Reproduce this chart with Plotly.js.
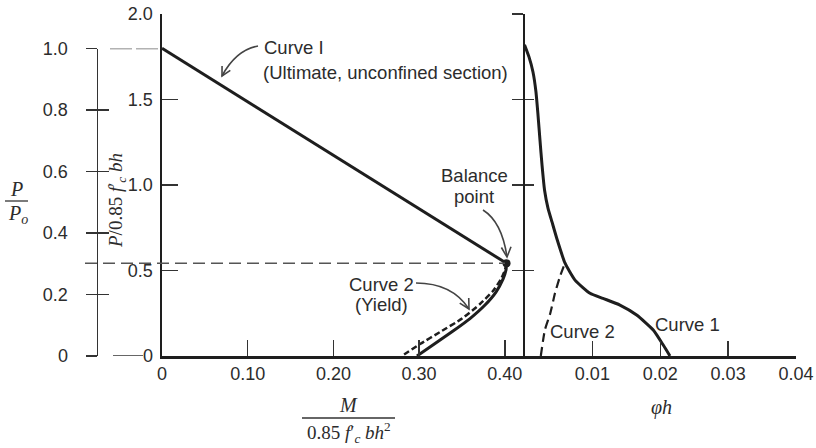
<!DOCTYPE html>
<html>
<head>
<meta charset="utf-8">
<script src="https://cdn.plot.ly/plotly-3.0.1.min.js"></script>
<style>html,body{margin:0;padding:0;background:#fff;}#chart{width:816px;height:448px;}</style>
</head>
<body>
<div id="chart"></div>
<script>
// ---------- data ----------
const mTickVals = [0, 0.1, 0.2, 0.3, 0.4];
const mTickText = ['0', '0.10', '0.20', '0.30', '0.40'];
const pTickVals = [0, 0.5, 1.0, 1.5, 2.0];
const pTickText = ['0', '0.5', '1.0', '1.5', '2.0'];
const poTickVals = [0, 0.2, 0.4, 0.6, 0.8, 1.0];
const poTickText = ['0', '0.2', '0.4', '0.6', '0.8', '1.0'];
const phTickVals = [0.01, 0.02, 0.03, 0.04];
const phTickText = ['0.01', '0.02', '0.03', '0.04'];

// Curve 1 (ultimate) interaction diagram, straight compression branch
const curve1LineM = [0, 0.402];
const curve1LineP = [1.80, 0.542];
// Curve 1 below balance point
const curve1LowM = [0.402, 0.4014, 0.3979, 0.3897, 0.3769, 0.3594, 0.3396, 0.3186, 0.2975];
const curve1LowP = [0.542, 0.503, 0.450, 0.374, 0.298, 0.219, 0.146, 0.073, 0];
// Curve 2 (yield) below balance point
const curve2LowM = [0.402, 0.4002, 0.3956, 0.3862, 0.3711, 0.3501, 0.3244, 0.3011, 0.2797];
const curve2LowP = [0.542, 0.503, 0.450, 0.380, 0.304, 0.219, 0.140, 0.070, 0];
// Balance point
const balanceM = [0.402];
const balanceP = [0.542];
// Curvature curves (phi h vs P)
const curve1PhiH = [0, 0.00066, 0.00125, 0.00169, 0.00199, 0.00228, 0.00258, 0.00295, 0.00346, 0.00405, 0.00483, 0.00596, 0.00744, 0.00965, 0.01156, 0.01406, 0.01652, 0.01897, 0.02044, 0.02143];
const curve1PhiP = [1.82, 1.749, 1.661, 1.544, 1.409, 1.263, 1.117, 0.971, 0.865, 0.784, 0.678, 0.544, 0.444, 0.367, 0.337, 0.298, 0.240, 0.152, 0.064, 0];
const curve2PhiH = [0.0024, 0.0030, 0.0038, 0.0045, 0.0052, 0.00596];
const curve2PhiP = [0, 0.152, 0.25, 0.368, 0.462, 0.544];

// ---------- layout helpers ----------
const W = 816, H = 448;
const X = px => px / W;
const Y = py => 1 - py / H;
const INK = '#1e1e1e';
const TXT = '#2c2c2c';

function curvePath(sx, sy, cx, cy, ex, ey) {
  return `M ${X(sx)},${Y(sy)} Q ${X(cx)},${Y(cy)} ${X(ex)},${Y(ey)}`;
}
function headPath(ex, ey, cx, cy, len, ang) {
  const dx = cx - ex, dy = cy - ey, d = Math.hypot(dx, dy);
  const ux = dx / d, uy = dy / d, a = ang * Math.PI / 180;
  const r1x = ux * Math.cos(a) - uy * Math.sin(a), r1y = ux * Math.sin(a) + uy * Math.cos(a);
  const r2x = ux * Math.cos(-a) - uy * Math.sin(-a), r2y = ux * Math.sin(-a) + uy * Math.cos(-a);
  return `M ${X(ex + r1x * len)},${Y(ey + r1y * len)} L ${X(ex)},${Y(ey)} L ${X(ex + r2x * len)},${Y(ey + r2y * len)}`;
}

const xSplit = 524.5, xLeft = 162, xRight = 796;
const pxPerM = 857; // px per unit of M axis

const traces = [
  {x: curve1LineM, y: curve1LineP, xaxis: 'x', yaxis: 'y', mode: 'lines', line: {color: INK, width: 3}, hoverinfo: 'skip'},
  {x: curve2LowM, y: curve2LowP, xaxis: 'x', yaxis: 'y', mode: 'lines', line: {color: INK, width: 2.5, dash: '6px,3px', shape: 'spline', smoothing: 0.5}, hoverinfo: 'skip'},
  {x: curve1LowM, y: curve1LowP, xaxis: 'x', yaxis: 'y', mode: 'lines', line: {color: INK, width: 3, shape: 'spline', smoothing: 0.5}, hoverinfo: 'skip'},
  {x: balanceM, y: balanceP, xaxis: 'x', yaxis: 'y', mode: 'markers', marker: {color: INK, size: 8}, cliponaxis: false, hoverinfo: 'skip'},
  {x: curve1PhiH, y: curve1PhiP, xaxis: 'x2', yaxis: 'y2', mode: 'lines', line: {color: INK, width: 3, shape: 'spline', smoothing: 0.5}, hoverinfo: 'skip'},
  {x: curve2PhiH, y: curve2PhiP, xaxis: 'x2', yaxis: 'y5', mode: 'lines', line: {color: INK, width: 2.2, dash: '9px,5px', shape: 'spline', smoothing: 0.5}, hoverinfo: 'skip'},
  // helper (invisible) traces so the P/Po axes are drawn
  {x: [0], y: [0], xaxis: 'x', yaxis: 'y3', mode: 'markers', marker: {opacity: 0}, hoverinfo: 'skip'},
  {x: [0], y: [0], xaxis: 'x', yaxis: 'y4', mode: 'markers', marker: {opacity: 0}, hoverinfo: 'skip'}
];

const yDom = [Y(356), Y(14)];
const poDom = [Y(356), Y(48.5)];
const tickFont = {family: 'Liberation Sans, Arial, sans-serif', size: 18, color: TXT};

const layout = {
  width: W, height: H,
  margin: {l: 0, r: 0, t: 0, b: 0},
  paper_bgcolor: '#ffffff',
  plot_bgcolor: 'rgba(0,0,0,0)',
  showlegend: false,
  font: tickFont,
  xaxis: {domain: [X(xLeft), X(xSplit)], range: [0, (xSplit - xLeft) / pxPerM], anchor: 'y',
    showgrid: false, zeroline: false, showline: true, linecolor: INK, linewidth: 2.5,
    ticks: 'inside', ticklen: 16, tickwidth: 1.5, tickcolor: '#333',
    tickmode: 'array', tickvals: mTickVals, ticktext: mTickText, tickfont: tickFont, fixedrange: true},
  xaxis2: {domain: [X(xSplit), X(xRight)], range: [0, 0.04], anchor: 'y2',
    showgrid: false, zeroline: false, showline: true, linecolor: INK, linewidth: 2.5,
    ticks: 'inside', ticklen: 15, tickwidth: 1.5, tickcolor: '#333',
    tickmode: 'array', tickvals: phTickVals, ticktext: phTickText, tickfont: tickFont, fixedrange: true},
  yaxis: {domain: yDom, range: [0, 2.0], anchor: 'x',
    showgrid: false, zeroline: false, showline: true, linecolor: INK, linewidth: 2.5,
    ticks: 'inside', ticklen: 16, tickwidth: 1.5, tickcolor: '#333',
    tickmode: 'array', tickvals: pTickVals, ticktext: pTickText, tickfont: tickFont,
    ticklabelstandoff: 3, fixedrange: true},
  yaxis2: {domain: yDom, range: [0, 2.0], anchor: 'x2',
    showgrid: false, zeroline: false, showline: true, linecolor: INK, linewidth: 2,
    ticks: 'outside', ticklen: 11, tickwidth: 1.5, tickcolor: '#333',
    tickmode: 'array', tickvals: [0.5, 1.0, 1.5, 2.0], showticklabels: false, fixedrange: true},
  yaxis5: {overlaying: 'y2', range: [0, 2.0], anchor: 'x2', side: 'left',
    showgrid: false, zeroline: false, showline: false,
    ticks: 'inside', ticklen: 9, tickwidth: 1.5, tickcolor: '#333',
    tickmode: 'array', tickvals: [0.5, 1.0, 1.5, 2.0], showticklabels: false, fixedrange: true},
  yaxis3: {domain: poDom, range: [0, 1.0], anchor: 'free', position: X(96.5), side: 'left',
    showgrid: false, zeroline: false, showline: true, linecolor: '#333', linewidth: 1.6,
    ticks: 'outside', ticklen: 11, tickwidth: 1.5, tickcolor: '#333',
    tickmode: 'array', tickvals: poTickVals, ticktext: poTickText, tickfont: tickFont,
    ticklabelstandoff: 14, fixedrange: true},
  yaxis4: {overlaying: 'y3', range: [0, 1.0], anchor: 'free', position: X(96.5), side: 'left',
    showgrid: false, zeroline: false, showline: false,
    ticks: 'inside', ticklen: 11, tickwidth: 1.5, tickcolor: '#333',
    tickmode: 'array', tickvals: poTickVals, showticklabels: false, fixedrange: true},
  shapes: [
    // balance point level dashed guide
    {type: 'line', xref: 'paper', yref: 'y', x0: X(85), x1: X(505), y0: balanceP[0], y1: balanceP[0],
      line: {color: '#555', width: 1.6, dash: '12px,6px'}},
    // P/Po = 1.0 leader to curve start
    {type: 'line', xref: 'paper', yref: 'y3', x0: X(110), x1: X(158), y0: 1, y1: 1,
      line: {color: '#666', width: 1.5, dash: '22px,4px'}},
    // leader to "0"
    {type: 'line', xref: 'paper', yref: 'y', x0: X(113), x1: X(143), y0: 0, y1: 0,
      line: {color: '#333', width: 1.5}},
    // fraction bars
    {type: 'line', xref: 'paper', yref: 'paper', x0: X(5), x1: X(28), y0: Y(201), y1: Y(201), line: {color: '#333', width: 1.3}},
    {type: 'line', xref: 'paper', yref: 'paper', x0: X(302), x1: X(395), y0: Y(418), y1: Y(418), line: {color: '#333', width: 1.3}},
    // curved arrows
    {type: 'path', xref: 'paper', yref: 'paper', path: curvePath(258, 46, 236, 50, 222, 76), line: {color: '#444', width: 1.6}},
    {type: 'path', xref: 'paper', yref: 'paper', path: headPath(222, 76, 236, 50, 10, 28), line: {color: '#444', width: 1.6}},
    {type: 'path', xref: 'paper', yref: 'paper', path: curvePath(483, 210, 502, 222, 507, 257), line: {color: '#444', width: 1.6}},
    {type: 'path', xref: 'paper', yref: 'paper', path: headPath(507, 257, 505, 232, 11, 26), line: {color: '#444', width: 1.6}},
    {type: 'path', xref: 'paper', yref: 'paper', path: curvePath(416, 283, 452, 283, 469, 309), line: {color: '#444', width: 1.6}},
    {type: 'path', xref: 'paper', yref: 'paper', path: headPath(469, 309, 460, 293, 11, 28), line: {color: '#444', width: 1.6}}
  ],
  annotations: []
};

function txt(text, px, py, opts) {
  layout.annotations.push(Object.assign({
    text: text, xref: 'paper', yref: 'paper', x: X(px), y: Y(py),
    xanchor: 'center', yanchor: 'middle', showarrow: false,
    font: {family: 'Liberation Sans, Arial, sans-serif', size: 18.5, color: TXT}
  }, opts || {}));
}
const serif = 'Liberation Serif, DejaVu Serif, serif';

txt('Curve I', 262, 48, {xanchor: 'left'});
txt('(Ultimate, unconfined section)', 261, 72, {xanchor: 'left'});
txt('Balance', 474, 175);
txt('point', 474, 196);
txt('Curve 2', 381, 284);
txt('(Yield)', 381, 304);
txt('Curve 2', 582, 331);
txt('Curve 1', 687, 324);
// axis titles
txt('<i>P</i>', 16, 189, {font: {family: serif, size: 20, color: TXT}});
txt('<i>P<sub>o</sub></i>', 18, 214, {font: {family: serif, size: 20, color: TXT}});
txt('<i>P</i>/0.85 <i>f</i>′<sub><i>c</i></sub> <i>bh</i>', 117, 200,
  {textangle: -90, font: {family: serif, size: 19, color: TXT}});
txt('<i>M</i>', 348, 405, {font: {family: serif, size: 20, color: TXT}});
txt('0.85 <i>f</i>′<sub><i>c</i></sub> <i>bh</i><sup>2</sup>', 349, 432, {font: {family: serif, size: 19, color: TXT}});
txt('<i>φh</i>', 661, 407, {font: {family: serif, size: 20, color: TXT}});

Plotly.newPlot('chart', traces, layout, {staticPlot: true, displayModeBar: false});
</script>
</body>
</html>
